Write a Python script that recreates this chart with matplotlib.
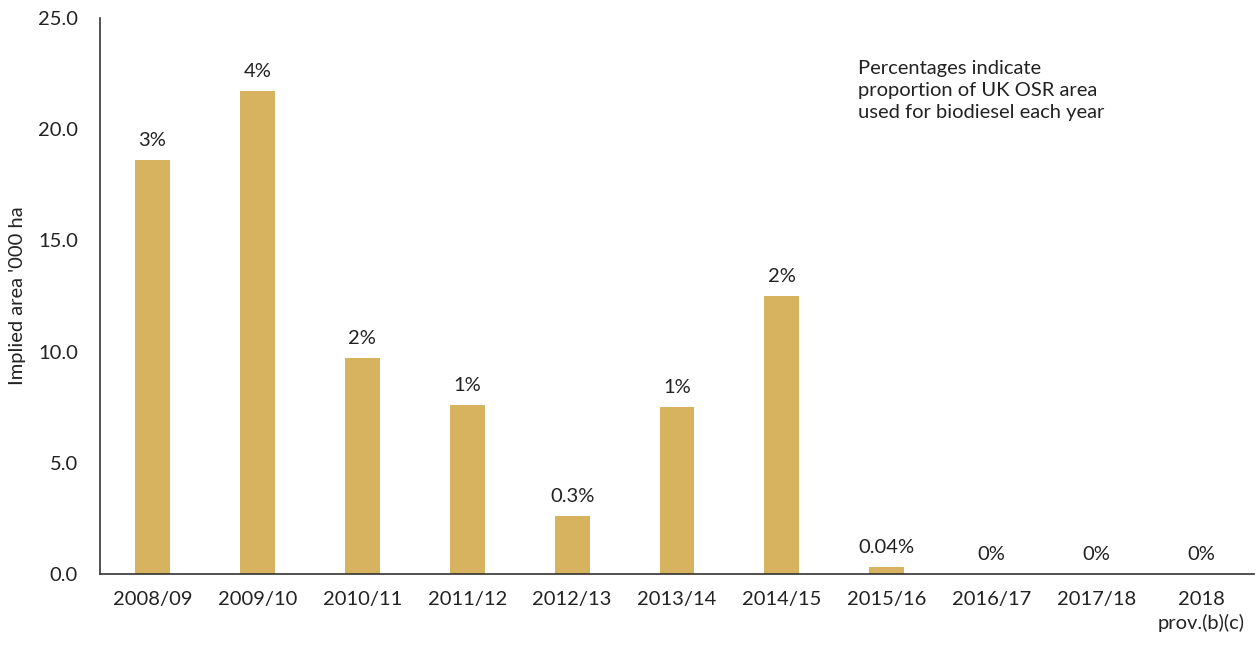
import matplotlib.pyplot as plt

plt.rcParams['font.family'] = ['Lato', 'DejaVu Sans']

# Implied UK oilseed rape area used for biodiesel
years = ['2008/09', '2009/10', '2010/11', '2011/12', '2012/13', '2013/14',
         '2014/15', '2015/16', '2016/17', '2017/18', '2018\nprov.(b)(c)']
area = [18.6, 21.7, 9.7, 7.6, 2.6, 7.5, 12.5, 0.3, 0.0, 0.0, 0.0]
share = ['3%', '4%', '2%', '1%', '0.3%', '1%', '2%', '0.04%', '0%', '0%', '0%']

fig = plt.figure(figsize=(12.56, 6.45), dpi=100)
ax = fig.add_axes([0.0796, 0.110, 0.9188, 0.862])

x = range(len(years))
bars = ax.bar(x, area, width=0.333, color='#d8b35f')

for xi, v, s in zip(x, area, share):
    ax.annotate(s, (xi, v), xytext=(0, 8), textcoords='offset points',
                ha='center', va='bottom', fontsize=14.5, color='#222222')

ax.set_xlim(-0.5, len(years) - 0.5)
ax.set_ylim(0, 25)
ax.set_yticks([0, 5, 10, 15, 20, 25])
ax.set_yticklabels([f'{t:.1f}' for t in [0, 5, 10, 15, 20, 25]])
ax.set_xticks(list(x))
ax.set_xticklabels(years, linespacing=1.4)
ax.tick_params(axis='both', length=0, labelsize=14.5, colors='#222222')
ax.tick_params(axis='y', pad=16)
ax.tick_params(axis='x', pad=12)

for side in ['top', 'right']:
    ax.spines[side].set_visible(False)
for side in ['left', 'bottom']:
    ax.spines[side].set_color('#333333')
    ax.spines[side].set_linewidth(1.2)

ax.set_ylabel("Implied area '000 ha", fontsize=14.5, color='#222222')
ax.yaxis.set_label_coords(-0.064, 0.5)

ax.text(0.6567, 0.925, 'Percentages indicate\nproportion of UK OSR area\nused for biodiesel each year',
        transform=ax.transAxes, ha='left', va='top', fontsize=14.5,
        color='#222222', linespacing=1.35)

fig.savefig('out.png', dpi=100)
